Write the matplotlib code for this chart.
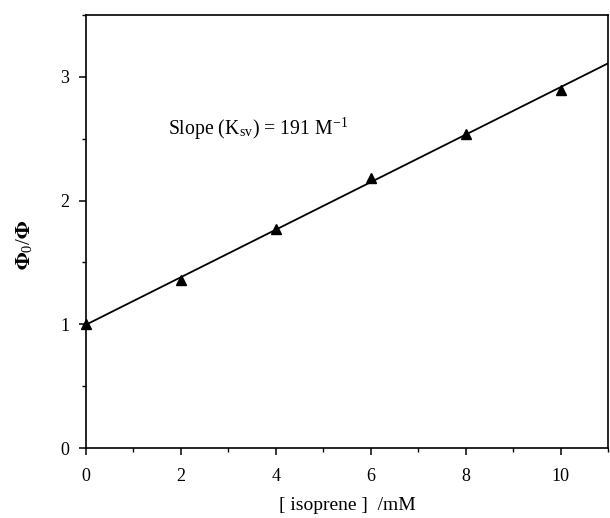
import matplotlib
matplotlib.use('Agg')
import matplotlib.pyplot as plt
import numpy as np
from matplotlib.ticker import MultipleLocator

# isoprene concentration (mM) and quenching ratio Phi0/Phi
conc = np.array([0, 2, 4, 6, 8, 10])
ratio = np.array([1.0, 1.355, 1.77, 2.185, 2.54, 2.895])

plt.rcParams['font.family'] = ['Liberation Serif', 'DejaVu Serif']
plt.rcParams['mathtext.fontset'] = 'stix'

# linear Stern-Volmer fit
slope, icpt = np.polyfit(conc, ratio, 1)
xfit = np.array([0, 11])

fig = plt.figure(figsize=(6.1, 5.18), dpi=100)
ax = fig.add_axes([0.141, 0.135, 0.856, 0.836])

ax.plot(xfit, slope * xfit + icpt, color='black', linewidth=1.3, zorder=2)
ax.plot(conc, ratio, '^', color='black', markersize=7.5, zorder=3, clip_on=False)

ax.text(1.72, 2.58, r'Slope (K$_{\mathregular{sv}}$) = 191 M$^{\mathregular{-1}}$',
        fontsize=14.2, va='center', ha='left')

ax.set_xlim(0, 11)
ax.set_ylim(0, 3.5)
ax.xaxis.set_major_locator(MultipleLocator(2))
ax.xaxis.set_minor_locator(MultipleLocator(1))
ax.yaxis.set_major_locator(MultipleLocator(1))
ax.yaxis.set_minor_locator(MultipleLocator(0.5))
ax.tick_params(which='major', direction='out', length=5, width=1.1, labelsize=13)
ax.tick_params(which='minor', direction='out', length=3, width=1.0)
ax.tick_params(axis='x', pad=9)
ax.tick_params(axis='y', pad=7)

for s in ax.spines.values():
    s.set_linewidth(1.2)

ax.set_xlabel('[ isoprene ]  /mM', fontsize=14, labelpad=9)
ax.set_ylabel(r'$\mathbf{\Phi}_{\mathregular{0}}\mathregular{/}\mathbf{\Phi}$', fontsize=15)
ax.yaxis.set_label_coords(-0.098, 0.47)

fig.savefig('out.png', dpi=100)
